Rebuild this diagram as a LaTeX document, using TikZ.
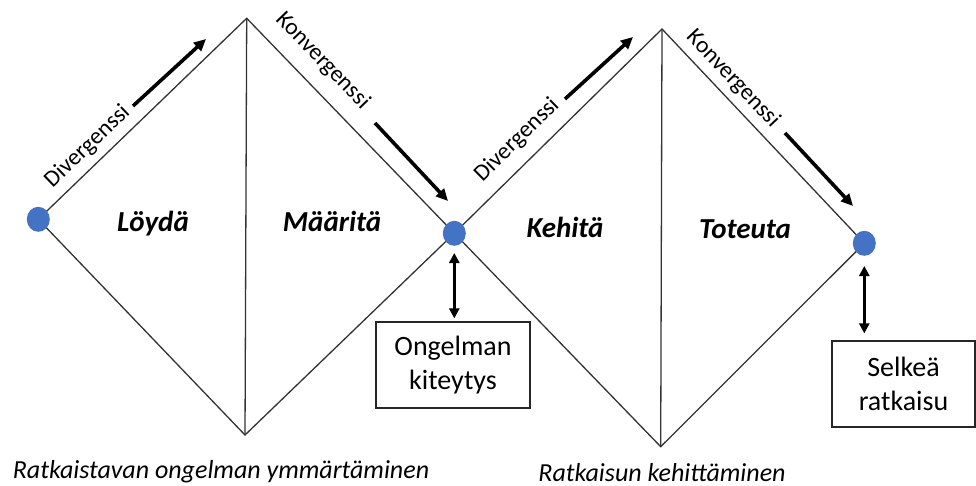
\documentclass[tikz,border=0pt]{standalone}
\usepackage{fontspec}
\setmainfont{Carlito}
\usetikzlibrary{arrows.meta,shapes.geometric}
\begin{document}
\begin{tikzpicture}[x=1pt,y=-1pt,
  edge/.style={draw=black!80, line width=1.3pt},
  dot/.style={ellipse, fill={rgb,255:red,68;green,114;blue,196}, draw=none,
    minimum width=23pt, minimum height=25pt, inner sep=0pt},
  flow/.style={line width=3.6pt, -{Triangle[length=12pt,width=11pt]}},
  dbl/.style={line width=3.4pt,
    {Triangle[length=10pt,width=10pt]}-{Triangle[length=10pt,width=10pt]}},
  outbox/.style={draw=black!85, line width=1.2pt, fill=white, align=center,
    inner sep=0pt, font=\fontsize{28}{34}\selectfont},
  phase/.style={anchor=base, font=\fontsize{29}{34}\selectfont\bfseries\itshape},
  diag/.style={font=\fontsize{23.5}{28}\selectfont},
  caption/.style={anchor=base, font=\fontsize{26}{30}\selectfont\itshape}]
\useasboundingbox (0,0) rectangle (976,486);

% corner points of the two diamonds
\coordinate (p1) at (38.3,219.3);
\coordinate (t1) at (246.7,18.3);
\coordinate (p2) at (454.3,233.3);
\coordinate (b1) at (245,435);
\coordinate (t2) at (662,29);
\coordinate (p3) at (864.3,243.3);
\coordinate (b2) at (660.7,446.7);

% diamonds with their vertical dividers
\draw[edge] (p1) -- (t1) -- (p2) -- (b1) -- cycle;
\draw[edge] (t1) -- (b1);
\draw[edge] (p2) -- (t2) -- (p3) -- (b2) -- cycle;
\draw[edge] (t2) -- (b2);

% milestone dots
\node[dot] (d1) at (p1) {};
\node[dot] (d2) at (p2) {};
\node[dot] (d3) at (p3) {};

% phase names
\node[phase] (loyda) at (153,232) {Löydä};
\node[phase] (maarita) at (332,232) {Määritä};
\node[phase] (kehita) at (565,237) {Kehitä};
\node[phase] (toteuta) at (745,238) {Toteuta};

% direction labels along the edges
\node[diag, rotate=43.9] (div1) at (87.5,146.7) {Divergenssi};
\node[diag, rotate=-46] (kon1) at (322.5,60.8) {Konvergenssi};
\node[diag, rotate=44.5] (div2) at (517,140) {Divergenssi};
\node[diag, rotate=-46.6] (kon2) at (733,79) {Konvergenssi};

% direction arrows
\coordinate (a1s) at (133,106); \coordinate (a1e) at (206,39);
\coordinate (a2s) at (375,123); \coordinate (a2e) at (448,201);
\coordinate (a3s) at (565,99);  \coordinate (a3e) at (633,37);
\coordinate (a4s) at (785,133); \coordinate (a4e) at (853,206);
\draw[flow] (a1s) -- (a1e);
\draw[flow] (a2s) -- (a2e);
\draw[flow] (a3s) -- (a3e);
\draw[flow] (a4s) -- (a4e);

% outcome boxes
\node[outbox, minimum width=154pt, minimum height=86pt] (ongelma) at (453,365)
  {Ongelman\\kiteytys};
\node[outbox, minimum width=143pt, minimum height=86pt] (ratkaisu) at (903.5,384)
  {Selkeä\\ratkaisu};

% links from the dots down to the boxes
\coordinate (o2) at (d2 |- ongelma.north);
\coordinate (o3) at (d3 |- ratkaisu.north);
\draw[dbl] ([yshift=-7pt]d2.south) -- ([yshift=3pt]o2);
\draw[dbl] ([yshift=-10pt]d3.south) -- ([yshift=7pt]o3);

% stage captions
\node[caption] (cap1) at (221,478) {Ratkaistavan ongelman ymmärtäminen};
\node[caption] (cap2) at (662,481) {Ratkaisun kehittäminen};
\end{tikzpicture}
\end{document}
